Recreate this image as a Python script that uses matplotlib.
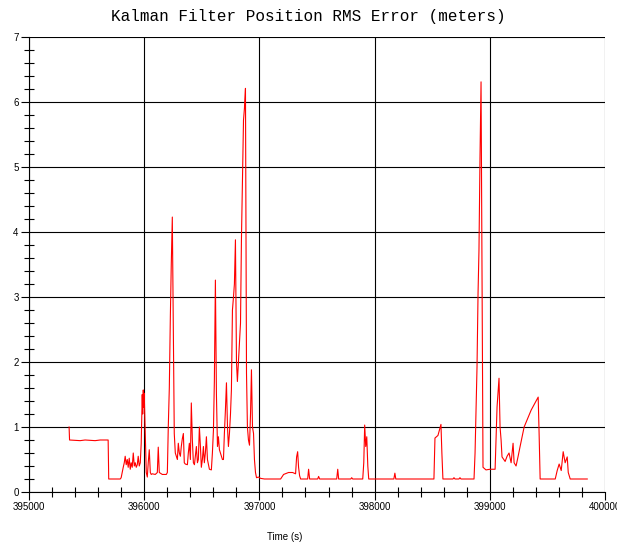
import numpy as np
import matplotlib
matplotlib.use("Agg")
import matplotlib.pyplot as plt
from matplotlib.ticker import MultipleLocator

# Time (s) and RMS position error (m)
time_s = [
    395348, 395352, 395444, 395487, 395574, 395618, 395687, 395692, 395792, 395800,
    395818, 395827, 395835, 395844, 395853, 395861, 395870, 395879, 395887, 395896,
    395905, 395914, 395922, 395931, 395940, 395948, 395957, 395966, 395974, 395983,
    395987, 395992, 395996, 396000, 396009, 396018, 396027, 396035, 396044, 396053,
    396061, 396070, 396096, 396114, 396122, 396131, 396157, 396192, 396201, 396209,
    396218, 396227, 396235, 396244, 396253, 396261, 396270, 396279, 396288, 396296,
    396305, 396314, 396322, 396331, 396340, 396348, 396357, 396375, 396383, 396392,
    396401, 396409, 396418, 396427, 396436, 396453, 396462, 396470, 396479, 396488,
    396496, 396505, 396514, 396522, 396531, 396540, 396549, 396566, 396583, 396592,
    396601, 396609, 396618, 396627, 396636, 396644, 396653, 396662, 396679, 396688,
    396696, 396705, 396714, 396723, 396731, 396740, 396749, 396757, 396766, 396775,
    396783, 396792, 396801, 396809, 396818, 396827, 396836, 396844, 396853, 396862,
    396870, 396879, 396888, 396896, 396905, 396914, 396923, 396931, 396940, 396949,
    396957, 396966, 396975, 396992, 397010, 397044, 397097, 397140, 397184, 397210,
    397253, 397288, 397314, 397323, 397332, 397340, 397349, 397358, 397419, 397427,
    397436, 397506, 397514, 397523, 397671, 397680, 397688, 397793, 397801, 397810,
    397897, 397906, 397914, 397923, 397932, 397941, 397949, 398167, 398176, 398184,
    398515, 398524, 398550, 398576, 398584, 398593, 398680, 398689, 398698, 398732,
    398741, 398750, 398863, 398872, 398889, 398898, 398906, 398915, 398924, 398932,
    398941, 398967, 399002, 399046, 399063, 399080, 399089, 399098, 399106, 399133,
    399150, 399167, 399185, 399202, 399211, 399228, 399246, 399263, 399298, 399359,
    399420, 399428, 399437, 399568, 399585, 399602, 399620, 399637, 399654, 399672,
    399681, 399698, 399846,
]
rms_err = [
    1.00, 0.80, 0.79, 0.80, 0.79, 0.80, 0.80, 0.20, 0.20, 0.22,
    0.38, 0.45, 0.55, 0.42, 0.50, 0.38, 0.52, 0.35, 0.45, 0.38,
    0.60, 0.40, 0.45, 0.38, 0.42, 0.55, 0.40, 0.45, 0.75, 1.50,
    1.20, 1.57, 1.30, 1.52, 0.90, 0.30, 0.23, 0.45, 0.65, 0.30,
    0.27, 0.28, 0.27, 0.30, 0.69, 0.30, 0.27, 0.27, 0.30, 1.00,
    1.60, 2.70, 3.50, 4.23, 2.50, 0.90, 0.60, 0.55, 0.50, 0.75,
    0.60, 0.55, 0.70, 0.82, 0.90, 0.45, 0.43, 0.42, 0.60, 0.75,
    0.50, 1.37, 0.80, 0.45, 0.42, 0.70, 0.45, 0.50, 1.00, 0.70,
    0.38, 0.50, 0.70, 0.45, 0.60, 0.85, 0.50, 0.35, 0.34, 0.60,
    0.95, 1.70, 3.26, 1.50, 0.70, 0.85, 0.65, 0.60, 0.50, 0.50,
    0.90, 1.26, 1.68, 1.00, 0.70, 0.90, 1.20, 1.57, 2.80, 3.00,
    3.20, 3.88, 2.00, 1.70, 2.00, 2.30, 2.60, 3.88, 4.80, 5.72,
    5.90, 6.21, 1.83, 1.00, 0.80, 0.72, 1.20, 1.88, 1.00, 0.90,
    0.50, 0.30, 0.22, 0.23, 0.21, 0.20, 0.20, 0.20, 0.20, 0.27,
    0.30, 0.30, 0.28, 0.54, 0.62, 0.38, 0.25, 0.20, 0.20, 0.35,
    0.20, 0.20, 0.24, 0.20, 0.20, 0.35, 0.20, 0.20, 0.22, 0.20,
    0.20, 0.45, 1.03, 0.70, 0.85, 0.40, 0.20, 0.20, 0.29, 0.20,
    0.20, 0.83, 0.87, 1.04, 0.60, 0.20, 0.20, 0.22, 0.20, 0.20,
    0.22, 0.20, 0.20, 0.60, 1.92, 3.06, 3.72, 5.15, 6.31, 3.37,
    0.38, 0.34, 0.35, 0.35, 1.31, 1.75, 1.00, 0.80, 0.54, 0.47,
    0.55, 0.60, 0.45, 0.75, 0.45, 0.40, 0.55, 0.70, 1.00, 1.26,
    1.46, 0.90, 0.20, 0.20, 0.33, 0.43, 0.33, 0.62, 0.45, 0.54,
    0.30, 0.20, 0.20,
]

fig = plt.figure(figsize=(6.17, 5.44), dpi=100)
ax = fig.add_axes([29 / 617, 1 - 492 / 544, 576 / 617, 455 / 544])

ax.plot(time_s, rms_err, color="red", linewidth=0.8)

ax.set_xlim(395000, 400000)
ax.set_ylim(0, 7)
ax.xaxis.set_major_locator(MultipleLocator(1000))
ax.xaxis.set_minor_locator(MultipleLocator(200))
ax.yaxis.set_major_locator(MultipleLocator(1))
ax.yaxis.set_minor_locator(MultipleLocator(0.2))
ax.ticklabel_format(useOffset=False, style="plain")

ax.grid(True, which="major", color="black", linewidth=0.8)
ax.tick_params(which="major", direction="out", length=6, width=0.8,
               pad=1.5, labelsize=7, color="black")
ax.tick_params(which="minor", direction="inout", length=7, width=0.8, color="black")
for lab in ax.get_xticklabels() + ax.get_yticklabels():
    lab.set_family("Liberation Sans")

for side in ["top", "right"]:
    ax.spines[side].set_visible(False)
for side in ["left", "bottom"]:
    ax.spines[side].set_color("black")
    ax.spines[side].set_linewidth(0.8)

fig.text(0.5, 1 - 17 / 544, "Kalman Filter Position RMS Error (meters)",
         ha="center", va="center", family="Liberation Mono", fontsize=11.5)
fig.text(285 / 617, 1 - 537 / 544, "Time (s)", ha="center", va="center",
         family="Liberation Sans", fontsize=7)

fig.savefig("out.png", dpi=100)
